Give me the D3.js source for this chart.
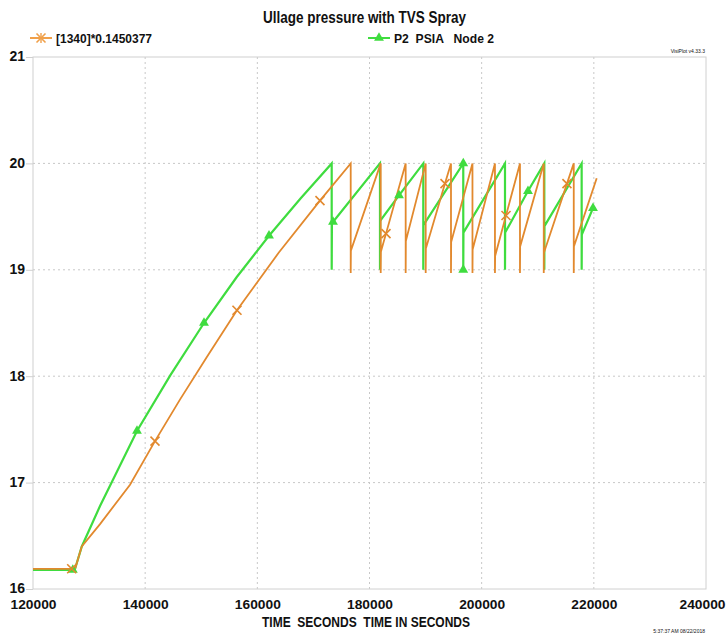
<!DOCTYPE html>
<html>
<head>
<meta charset="utf-8">
<script src="https://cdn.jsdelivr.net/npm/d3@7"></script>
<style>
  html, body { margin: 0; padding: 0; background: #fff; }
  svg { display: block; }
  text { font-family: "Liberation Sans", Arial, sans-serif; font-weight: bold; fill: #111; }
</style>
</head>
<body>
<svg id="chart" width="726" height="636"></svg>
<script>
// Tick values for both axes
const xTicks = [120000, 140000, 160000, 180000, 200000, 220000, 240000];
const yTicks = [16, 17, 18, 19, 20, 21];

// Series 1: [1340]*0.1450377 (time in seconds, pressure)
const orangeTime = [
  120000, 126900, 127500, 128700, 131950, 137300, 141750, 146200, 151000, 156370,
  163800, 171170, 176650, 176650, 176680, 182000, 182000, 182030, 182940, 186450,
  186450, 186480, 190020, 190020, 190050, 193460, 194530, 194530, 194560, 198360,
  198360, 198390, 202370, 202370, 202400, 204340, 206830, 206830, 206860, 211070,
  211070, 211100, 215210, 216420, 216420, 216450, 220510
];
const orangeP = [
  16.19, 16.19, 16.19, 16.40, 16.61, 16.98, 17.39, 17.78, 18.18, 18.62,
  19.16, 19.65, 20.00, 18.97, 19.18, 20.00, 18.97, 19.17, 19.34, 20.00,
  18.97, 19.27, 20.00, 18.97, 19.20, 19.81, 20.00, 18.97, 19.26, 20.00,
  18.97, 19.19, 20.00, 18.97, 19.13, 19.51, 20.00, 18.97, 19.22, 20.00,
  18.97, 19.16, 19.81, 20.00, 18.97, 19.22, 19.86
];
const orangeMarkTimes = [126900, 141750, 156370, 171170, 182940, 193460, 204340, 215210];

// Series 2: P2 PSIA Node 2
const greenTime = [
  120000, 127100, 127500, 128700, 131950, 138540, 144500, 150490, 156300, 162080,
  167700, 173260, 173260, 173300, 173490, 181870, 181870, 181900, 185260, 189590,
  189590, 189620, 196720, 196720, 196750, 204160, 204160, 204190, 208260, 211170,
  211170, 211200, 217830, 217830, 217860, 219850
];
const greenP = [
  16.18, 16.18, 16.19, 16.40, 16.78, 17.485, 18.01, 18.50, 18.93, 19.32,
  19.67, 20.00, 19.00, 19.44, 19.45, 20.00, 19.00, 19.46, 19.70, 20.00,
  19.00, 19.42, 20.00, 19.00, 19.35, 20.00, 19.00, 19.35, 19.74, 20.00,
  19.00, 19.41, 20.00, 19.00, 19.33, 19.58
];
const greenMarkTimes = [127100, 138540, 150490, 162080, 173490, 185260, 196720, 208260, 219850];

const seriesNames = ["[1340]*0.1450377", "P2  PSIA   Node 2"];
const chartTitle = "Ullage pressure with TVS Spray";
const xTitle = "TIME  SECONDS  TIME IN SECONDS";

const orangeColor = "#e2892e";
const legendOrange = "#f0a04a";
const greenColor = "#3fdc3f";

const svg = d3.select("#chart");
const margin = { left: 33, right: 20, top: 57, bottom: 47 };
const W = 726, H = 636;

const x = d3.scaleLinear().domain([120000, 240000]).range([margin.left, W - margin.right]);
const y = d3.scaleLinear().domain([16, 21]).range([H - margin.bottom, margin.top]);

// gridlines
const grid = svg.append("g");
grid.selectAll("line.vg").data(xTicks.slice(1, -1)).join("line")
  .attr("x1", d => x(d)).attr("x2", d => x(d))
  .attr("y1", y(21)).attr("y2", y(16))
  .attr("stroke", "#c8c8c8").attr("stroke-width", 1).attr("stroke-dasharray", "2,3");
grid.selectAll("line.hg").data(yTicks.slice(1, -1)).join("line")
  .attr("x1", x(120000)).attr("x2", x(240000))
  .attr("y1", d => y(d)).attr("y2", d => y(d))
  .attr("stroke", "#c8c8c8").attr("stroke-width", 1).attr("stroke-dasharray", "2,3");

// frame
svg.append("rect")
  .attr("x", x(120000)).attr("y", y(21))
  .attr("width", x(240000) - x(120000)).attr("height", y(16) - y(21))
  .attr("fill", "none").attr("stroke", "#d0d0d0").attr("stroke-width", 1);

// axes
const xAxis = svg.append("g").attr("transform", `translate(0,${y(16)})`)
  .call(d3.axisBottom(x).tickValues(xTicks).tickFormat(d3.format("d")).tickSize(0).tickPadding(10));
xAxis.select(".domain").remove();
xAxis.selectAll("text").style("font-size", "13.5px").attr("fill", "#111")
  .attr("textLength", 46).attr("lengthAdjust", "spacingAndGlyphs");
// keep the last label inside the page
xAxis.selectAll(".tick").filter(d => d === 240000).select("text").attr("dx", -4);

const yAxis = svg.append("g").attr("transform", `translate(${x(120000)},0)`)
  .call(d3.axisLeft(y).tickValues(yTicks).tickFormat(d3.format("d")).tickSize(7).tickPadding(1));
yAxis.select(".domain").remove();
yAxis.selectAll("line").attr("stroke", "#d0d0d0");
yAxis.selectAll("text").style("font-size", "14px").attr("fill", "#111").attr("dy", "0.28em");

// lines
const line = d3.line().x(d => x(d[0])).y(d => y(d[1]));
const greenData = greenTime.map((t, i) => [t, greenP[i]]);
const orangeData = orangeTime.map((t, i) => [t, orangeP[i]]);

svg.append("path").datum(greenData).attr("d", line)
  .attr("fill", "none").attr("stroke", greenColor).attr("stroke-width", 2.2);
svg.append("path").datum(orangeData).attr("d", line)
  .attr("fill", "none").attr("stroke", orangeColor).attr("stroke-width", 1.8);

// markers
const tri = d3.symbol().type(d3.symbolTriangle).size(42);
svg.append("g").selectAll("path")
  .data(greenData.filter(d => greenMarkTimes.includes(d[0])))
  .join("path")
  .attr("d", tri)
  .attr("transform", d => `translate(${x(d[0])},${y(d[1])})`)
  .attr("fill", greenColor);

function drawCross(g, cx, cy, r, color) {
  g.append("line").attr("x1", cx - r).attr("y1", cy - r).attr("x2", cx + r).attr("y2", cy + r)
    .attr("stroke", color).attr("stroke-width", 1.6);
  g.append("line").attr("x1", cx - r).attr("y1", cy + r).attr("x2", cx + r).attr("y2", cy - r)
    .attr("stroke", color).attr("stroke-width", 1.6);
}
const crossG = svg.append("g");
orangeData.filter(d => orangeMarkTimes.includes(d[0]))
  .forEach(d => drawCross(crossG, x(d[0]), y(d[1]), 4.5, orangeColor));

// title
svg.append("text").attr("x", 263).attr("y", 23)
  .attr("textLength", 203).attr("lengthAdjust", "spacingAndGlyphs")
  .style("font-size", "16px").text(chartTitle);

// legend
const lg = svg.append("g");
lg.append("line").attr("x1", 30).attr("x2", 52).attr("y1", 38).attr("y2", 38)
  .attr("stroke", legendOrange).attr("stroke-width", 2);
drawCross(lg, 41, 38, 4.5, legendOrange);
lg.append("line").attr("x1", 41).attr("x2", 41).attr("y1", 33).attr("y2", 43)
  .attr("stroke", legendOrange).attr("stroke-width", 1.4);
lg.append("text").attr("x", 56).attr("y", 43).style("font-size", "13.5px")
  .attr("textLength", 96).attr("lengthAdjust", "spacingAndGlyphs").text(seriesNames[0]);

lg.append("line").attr("x1", 368).attr("x2", 390).attr("y1", 38).attr("y2", 38)
  .attr("stroke", greenColor).attr("stroke-width", 2);
lg.append("path").attr("d", tri).attr("transform", "translate(379,38)").attr("fill", greenColor);
lg.append("text").attr("x", 394).attr("y", 43).style("font-size", "13.5px")
  .style("white-space", "pre").attr("xml:space", "preserve")
  .attr("textLength", 100).attr("lengthAdjust", "spacingAndGlyphs").text(seriesNames[1]);

// x axis title
svg.append("text").attr("x", 262).attr("y", 627)
  .attr("textLength", 208).attr("lengthAdjust", "spacingAndGlyphs")
  .style("font-size", "15px").attr("xml:space", "preserve").style("white-space", "pre").text(xTitle);

// program stamps
svg.append("text").attr("x", 705).attr("y", 53).attr("text-anchor", "end")
  .style("font-size", "5px").style("font-weight", "normal").attr("fill", "#555").text("VisiPlot v4.33.3");
svg.append("text").attr("x", 705).attr("y", 633).attr("text-anchor", "end")
  .style("font-size", "5px").style("font-weight", "normal").attr("fill", "#555").text("5:37:37 AM 08/22/2018");
</script>
</body>
</html>
